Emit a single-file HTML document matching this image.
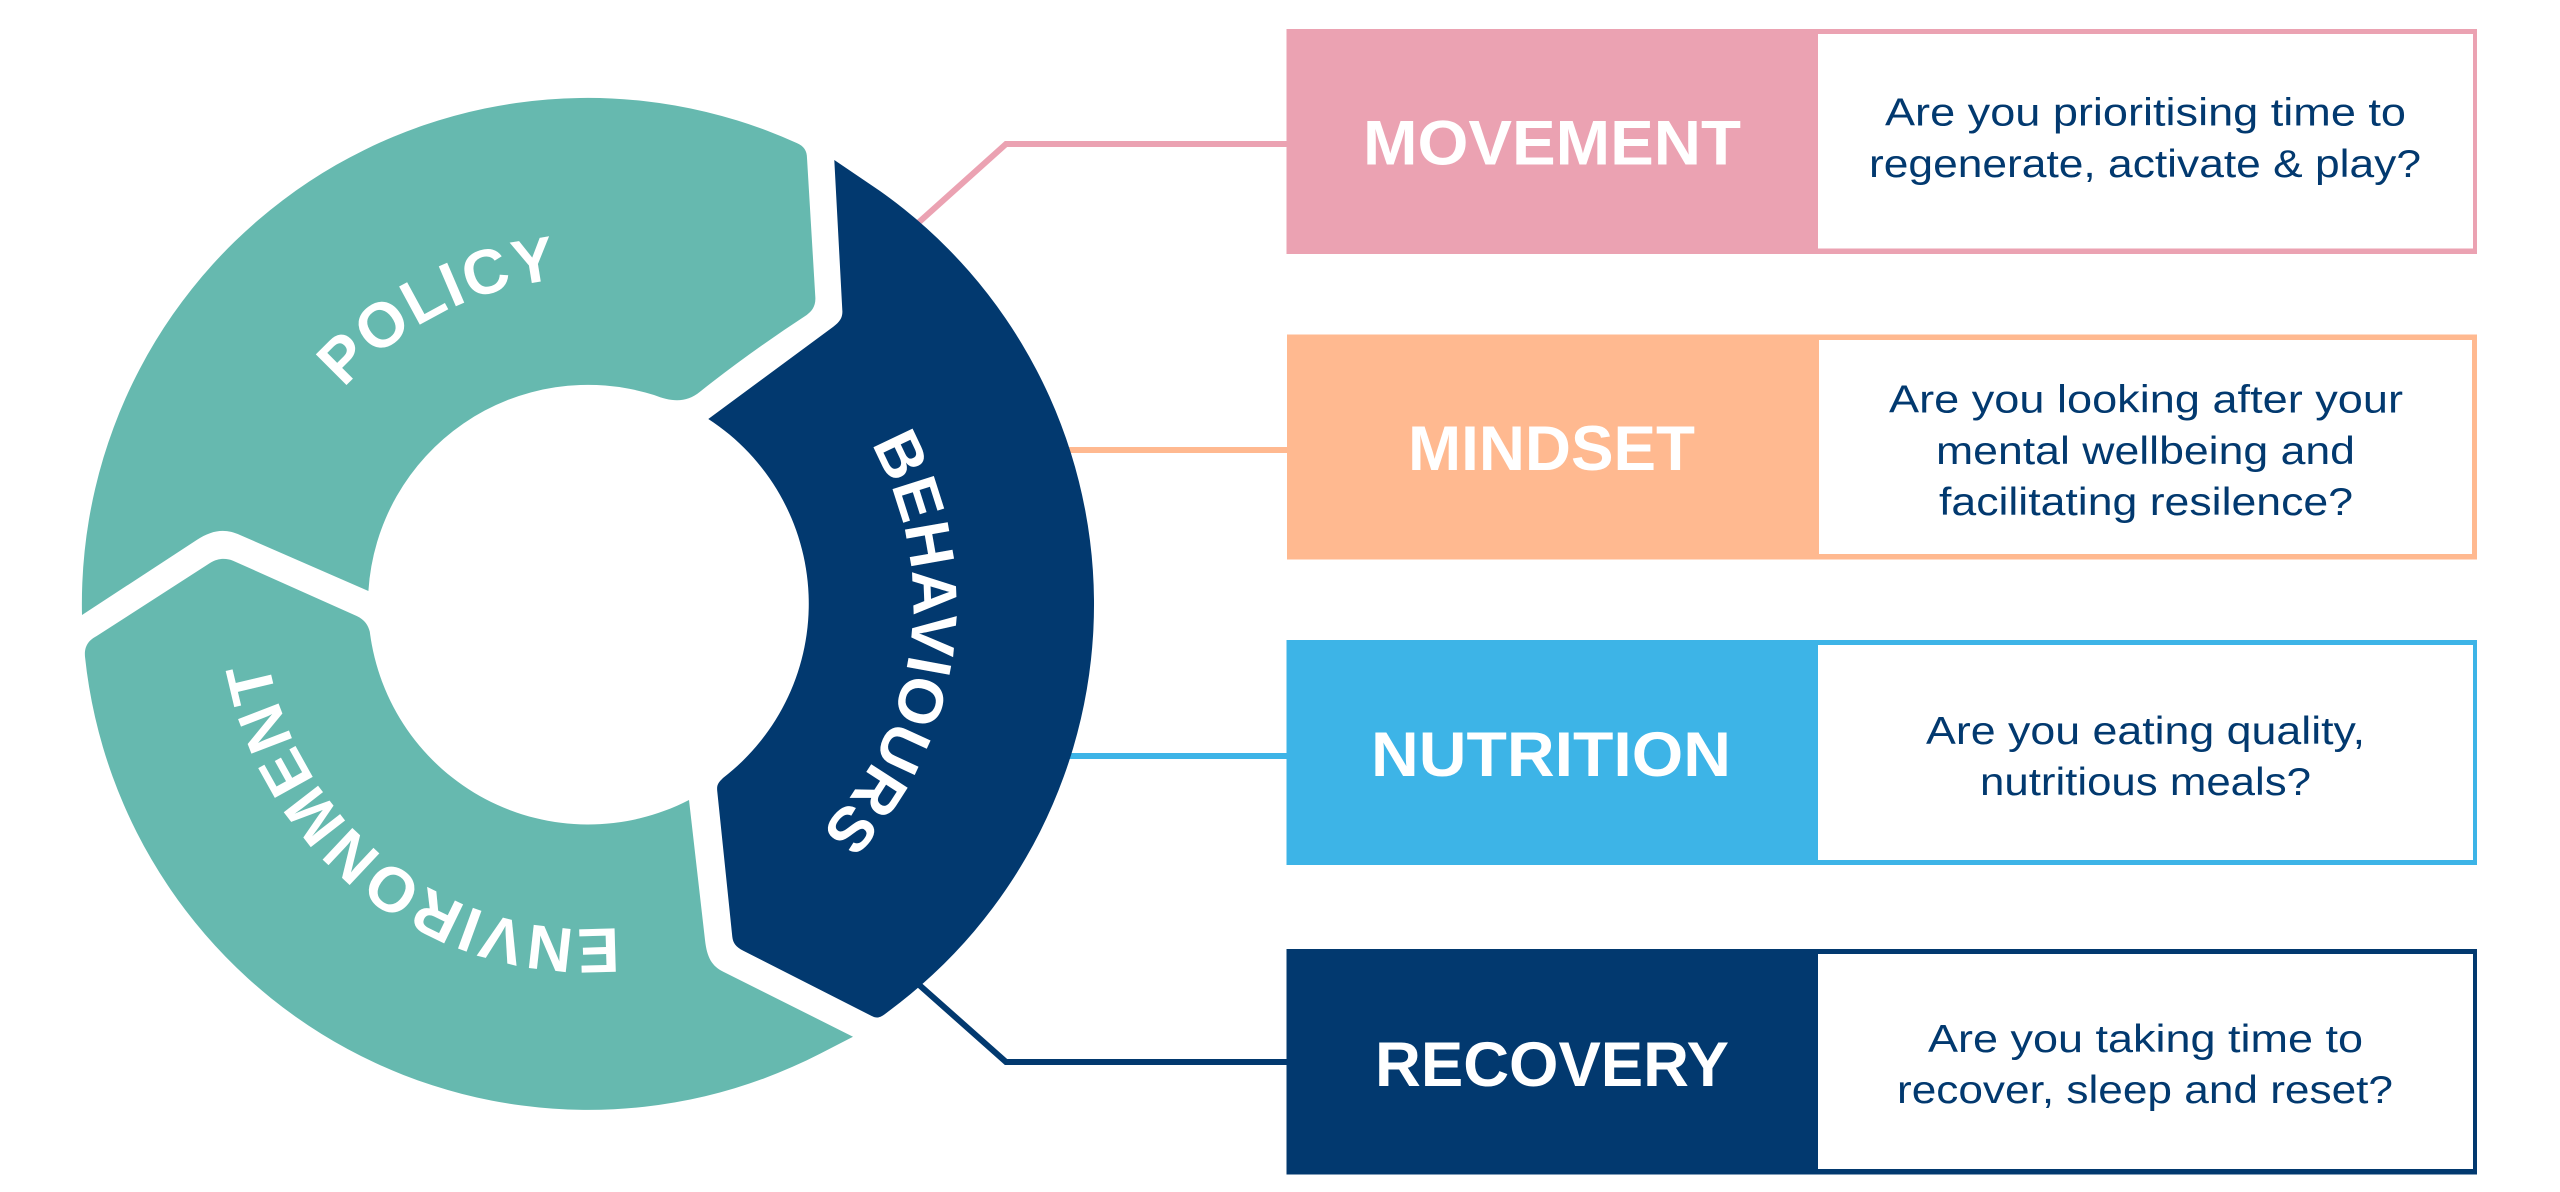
<!DOCTYPE html>
<html lang="en">
<head>
<meta charset="utf-8">
<title>Behaviours diagram</title>
<style>
html,body{margin:0;padding:0;background:#fff;width:2560px;height:1192px;overflow:hidden}
svg{display:block}
.h{font-family:"Liberation Sans",sans-serif;font-weight:700;font-size:63px;fill:#fff}
.q{font-family:"Liberation Sans",sans-serif;font-size:38.5px;fill:#02396f}
</style>
</head>
<body>
<svg width="2560" height="1192" viewBox="0 0 2560 1192" xmlns="http://www.w3.org/2000/svg">
<defs>
<path id="pp" d="M344 388.5 A325 325 0 0 1 913 604"/>
<path id="pb" d="M871 444 A325 325 0 1 1 263 604"/>
<path id="pe" d="M618.6 927.6 A325 325 0 1 1 588 279"/>
</defs>

<!-- connectors -->
<path d="M908 232 L1006 144 L1290 144" fill="none" stroke="#eba2b2" stroke-width="6"/>
<path d="M1040 450 L1290 450" fill="none" stroke="#ffb990" stroke-width="6"/>
<path d="M1040 756 L1290 756" fill="none" stroke="#3db4e7" stroke-width="6"/>
<path d="M908 975 L1006 1062 L1290 1062" fill="none" stroke="#02396f" stroke-width="6"/>

<!-- ring -->
<path fill="#66b9af" d="M82 615 A506 506 0 0 1 796.7 143 C804 146 807 151 807 158 L815.3 296.7 C816 306 812 311 806.7 315 Q750 352 700 391.7 C686 403 672 402 654 395 A220 220 0 0 0 368.4 591 L240 535 C225 528 212 530 196.7 540 Z"/>
<path fill="#02396f" d="M834.3 160 L880 191 A506 506 0 0 1 886.7 1012.7 C879 1019 876 1018 871.7 1016 L743.3 950.7 C736 947 733 943 732.3 936.7 L717.3 791.7 C716.5 785 718 783 723 778 A220 220 0 0 0 708.3 419 L833.3 326.7 C840 322 843 317 842.3 310 Z"/>
<path fill="#66b9af" d="M85 656.7 C84 646 89 640 96.7 636 L210 563 C218 558 226 558 233 560.7 L356.7 616 C365 620 368 625 369.8 631.7 A220 220 0 0 0 689 800 L705 940 C707 958 712 966 723.3 971.7 L853 1036.7 L820 1053.7 A506 506 0 0 1 85 656.7 Z"/>

<!-- curved labels -->
<text class="h"><textPath href="#pp" textLength="245" lengthAdjust="spacing">POLICY</textPath></text>
<text class="h"><textPath href="#pb" textLength="418" lengthAdjust="spacing">BEHAVIOURS</textPath></text>
<text class="h"><textPath href="#pe" textLength="484" lengthAdjust="spacing">ENVIRONMENT</textPath></text>

<!-- boxes -->
<rect x="1286.5" y="29" width="1190.5" height="225" fill="#eba2b2"/>
<rect x="1818" y="34" width="655" height="214.5" fill="#fff"/>
<rect x="1287" y="334.5" width="1190" height="225" fill="#ffb990"/>
<rect x="1819" y="340" width="653" height="214" fill="#fff"/>
<rect x="1286.5" y="640" width="1190.5" height="225" fill="#3db4e7"/>
<rect x="1818" y="645" width="655" height="215" fill="#fff"/>
<rect x="1286.5" y="949" width="1190.5" height="225.5" fill="#02396f"/>
<rect x="1818" y="954" width="655" height="215" fill="#fff"/>

<!-- headings -->
<text class="h" x="1363" y="164.5" textLength="378" lengthAdjust="spacingAndGlyphs">MOVEMENT</text>
<text class="h" x="1408" y="470" textLength="287" lengthAdjust="spacingAndGlyphs">MINDSET</text>
<text class="h" x="1371" y="776" textLength="360" lengthAdjust="spacingAndGlyphs">NUTRITION</text>
<text class="h" x="1375" y="1086" textLength="354" lengthAdjust="spacingAndGlyphs">RECOVERY</text>

<!-- questions -->
<text class="q" x="1885" y="125.5" textLength="521" lengthAdjust="spacingAndGlyphs">Are you prioritising time to</text>
<text class="q" x="1869" y="177" textLength="552" lengthAdjust="spacingAndGlyphs">regenerate, activate &amp; play?</text>
<text class="q" x="1889" y="412.5" textLength="514" lengthAdjust="spacingAndGlyphs">Are you looking after your</text>
<text class="q" x="1936" y="464" textLength="419" lengthAdjust="spacingAndGlyphs">mental wellbeing and</text>
<text class="q" x="1939" y="515" textLength="414" lengthAdjust="spacingAndGlyphs">facilitating resilence?</text>
<text class="q" x="1926" y="744" textLength="439" lengthAdjust="spacingAndGlyphs">Are you eating quality,</text>
<text class="q" x="1980" y="795" textLength="331" lengthAdjust="spacingAndGlyphs">nutritious meals?</text>
<text class="q" x="1928" y="1052" textLength="435" lengthAdjust="spacingAndGlyphs">Are you taking time to</text>
<text class="q" x="1897" y="1103" textLength="496" lengthAdjust="spacingAndGlyphs">recover, sleep and reset?</text>
</svg>
</body>
</html>
